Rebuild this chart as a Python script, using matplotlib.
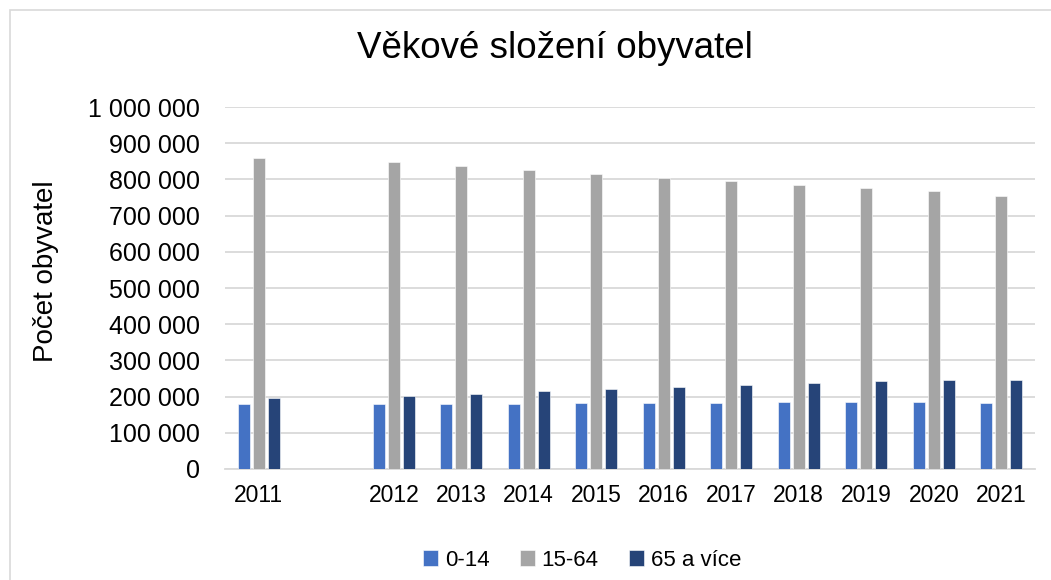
import numpy as np
import matplotlib
matplotlib.use("Agg")
import matplotlib.pyplot as plt
from matplotlib.patches import Rectangle
from matplotlib.ticker import FuncFormatter, MultipleLocator

plt.rcParams['font.family'] = ['Liberation Sans', 'DejaVu Sans']

categories = ["2011", "", "2012", "2013", "2014", "2015", "2016", "2017", "2018", "2019", "2020", "2021"]
series_names = ["0-14", "15-64", "65 a více"]
age_0_14 = [179600, np.nan, 180000, 180000, 180000, 181000, 181000, 182000, 184000, 184000, 184000, 181000]
age_15_64 = [859000, np.nan, 848000, 838000, 827000, 816000, 805000, 795000, 785000, 777000, 768000, 753000]
age_65 = [195000, np.nan, 203000, 208000, 215000, 220000, 226500, 232000, 237500, 242000, 245000, 247000]
colors = ["#4472C4", "#A5A5A5", "#264478"]

W, H = 1051, 580
fig = plt.figure(figsize=(W / 100, H / 100), dpi=100)
fig.patches.append(Rectangle((10 / W, -0.3), 1.3, 1.3 - 10 / H, transform=fig.transFigure,
                             fill=False, edgecolor="#D9D9D9", linewidth=1.2))

ax = fig.add_axes([225 / W, 1 - 469 / H, (1035 - 225) / W, (469 - 107) / H])
x = np.arange(len(categories))
bw = 0.178
step = 0.222
for i, (vals, name) in enumerate(zip([age_0_14, age_15_64, age_65], series_names)):
    ax.bar(x + (i - 1) * step, vals, width=bw, color=colors[i], label=name,
           edgecolor="white", linewidth=0.4, zorder=3)

ax.set_xlim(-0.5, len(categories) - 0.5)
ax.set_ylim(0, 1000000)
ax.yaxis.set_major_locator(MultipleLocator(100000))
ax.yaxis.set_major_formatter(FuncFormatter(lambda v, p: f"{int(v):,}".replace(",", " ")))
ax.set_xticks(x)
ax.set_xticklabels(categories)
ax.tick_params(axis='y', length=0, pad=18, labelsize=18, labelcolor="#000000")
ax.tick_params(axis='x', length=0, pad=11, labelsize=16.5, labelcolor="#000000")
ax.grid(axis='y', color="#D9D9D9", linewidth=1.3, zorder=0)
for s in ["top", "right", "left"]:
    ax.spines[s].set_visible(False)
ax.spines["bottom"].set_color("#D9D9D9")
ax.spines["bottom"].set_linewidth(1.3)

fig.text(555 / W, 1 - 48 / H, "Věkové složení obyvatel", ha="center", va="center",
         fontsize=26.5, color="#000000")
fig.text(46 / W, 1 - 271 / H, "Počet obyvatel", ha="center", va="center", rotation=90,
         fontsize=20, color="#000000")

leg = fig.legend(loc="center", bbox_to_anchor=(582 / W, 1 - 560 / H), ncol=3, frameon=False,
                 fontsize=16, handlelength=0.7, handleheight=0.7, handletextpad=0.3,
                 columnspacing=1.35)

fig.savefig("out.png", dpi=100)
